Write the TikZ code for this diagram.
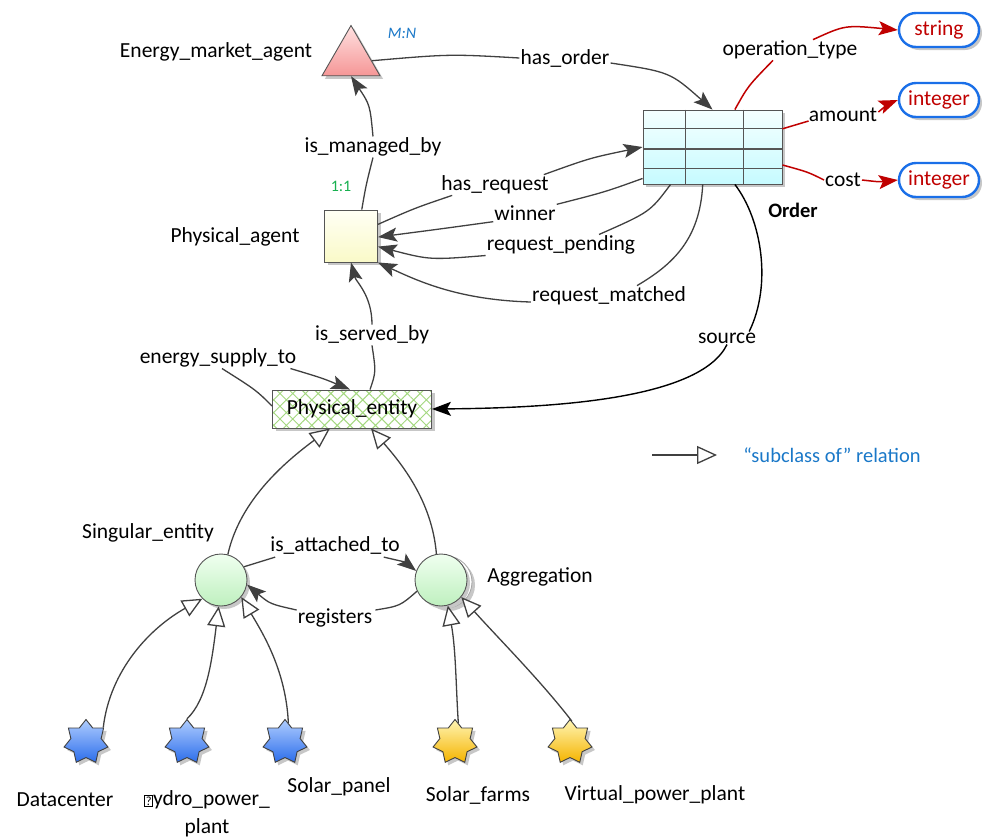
\documentclass[tikz,border=0pt]{standalone}
\usepackage{fontspec}
\setmainfont{Carlito}
\usetikzlibrary{shapes.geometric,arrows.meta,calc,shadows,patterns.meta}

\definecolor{edgegray}{HTML}{404040}
\definecolor{bordergray}{HTML}{555555}
\definecolor{typered}{HTML}{C00000}
\definecolor{typeblue}{HTML}{1A6FE8}
\definecolor{noteblue}{HTML}{1A78C8}
\definecolor{notegreen}{HTML}{18B050}
\definecolor{hatchgreen}{HTML}{A4D880}

% small "missing glyph" box used in one of the labels
\newcommand{\tofubox}{\raisebox{0.3pt}{\fboxsep=0.9pt\fboxrule=0.6pt\fbox{\fontsize{12.5}{12.5}\selectfont ?}}}

\begin{document}
\begin{tikzpicture}[x=1pt,y=-1pt,
  font=\fontsize{21.5}{25}\selectfont,
  lbl/.style={inner sep=1pt},
  softshadow/.style={drop shadow={shadow xshift=3pt,shadow yshift=-3pt,fill=black!22,opacity=1}},
  rel/.style={draw=edgegray,line width=1.3pt,-{Stealth[length=19pt,width=14pt,inset=4pt]}},
  plainrel/.style={draw=edgegray,line width=1.3pt},
  redrel/.style={draw=typered,line width=1.5pt,-{Stealth[length=19pt,width=14pt,inset=4pt]}},
  redplain/.style={draw=typered,line width=1.5pt},
  srcrel/.style={draw=black,line width=1.4pt,-{Stealth[length=19pt,width=14pt,inset=4pt]}},
  subrel/.style={draw=edgegray,line width=1.3pt,-{Triangle[length=20pt,width=18pt,fill=white,line width=1.3pt]}},
  typebox/.style={draw=typeblue,line width=2.4pt,rounded corners=17pt,minimum width=80pt,
    minimum height=34pt,inner sep=0pt,text=typered,fill=white,softshadow},
  bluestar/.style={star,star points=7,star point ratio=1.45,minimum size=45pt,inner sep=0pt,
    draw=edgegray,line width=0.9pt,top color={rgb,255:red,175;green,205;blue,255},bottom color={rgb,255:red,45;green,110;blue,235},softshadow},
  yellowstar/.style={star,star points=7,star point ratio=1.45,minimum size=45pt,inner sep=0pt,
    draw=edgegray,line width=0.9pt,top color={rgb,255:red,255;green,245;blue,180},bottom color={rgb,255:red,245;green,180;blue,0},softshadow},
  greencircle/.style={circle,minimum size=52pt,inner sep=0pt,draw=bordergray,line width=0.9pt,
    top color={rgb,255:red,240;green,255;blue,240},bottom color={rgb,255:red,190;green,240;blue,190},softshadow}
]
\useasboundingbox (0,0) rectangle (987,839);

% ---------- main concepts ----------
\node[regular polygon,regular polygon sides=3,minimum size=67pt,inner sep=0pt,
      draw=bordergray,line width=0.9pt,top color={rgb,255:red,255;green,225;blue,225},
      bottom color={rgb,255:red,245;green,150;blue,150},softshadow] (ema) at (351,59) {};
\node[lbl] (emalabel) at (216,52) {Energy\_market\_agent};
\node[lbl,font=\fontsize{16}{18}\selectfont\itshape,text=noteblue] (mn) at (402,33) {M:N};

\node[draw=bordergray,line width=0.9pt,minimum width=53pt,minimum height=52pt,inner sep=0pt,
      top color={rgb,255:red,255;green,255;blue,245},bottom color={rgb,255:red,250;green,250;blue,200},softshadow] (pa) at (351,236) {};
\node[lbl] (palabel) at (235,237) {Physical\_agent};
\node[lbl,font=\fontsize{16}{18}\selectfont,text=notegreen] (oneone) at (341,186) {1:1};

\node[draw=bordergray,line width=0.9pt,minimum width=139pt,minimum height=74pt,inner sep=0pt,
      top color={rgb,255:red,245;green,255;blue,255},bottom color={rgb,255:red,198;green,251;blue,255},softshadow] (ord) at (712.5,147) {};
\foreach \f/\w in {0.257/0.8,0.527/1.1,0.784/0.8}
  \draw[bordergray,line width=\w pt] ($(ord.north west)!\f!(ord.south west)$) -- ($(ord.north east)!\f!(ord.south east)$);
\foreach \f in {0.309,0.719}
  \draw[bordergray,line width=0.8pt] ($(ord.north west)!\f!(ord.north east)$) -- ($(ord.south west)!\f!(ord.south east)$);
\node[lbl,font=\fontsize{20.5}{24}\selectfont\bfseries] (ordlabel) at (793,210) {Order};

\node[typebox] (t1) at (939,30) {string};
\node[typebox] (t2) at (939,100) {integer};
\node[typebox] (t3) at (939,180) {integer};

\node[draw=bordergray,line width=0.9pt,minimum width=159pt,minimum height=38pt,inner sep=0pt,
      fill=white,softshadow,
      postaction={pattern={Hatch[angle=45,distance=9pt,line width=1pt]},pattern color=hatchgreen}] (pebox) at (352,409) {};
\node[draw=bordergray,line width=0.9pt,minimum width=159pt,minimum height=38pt,inner sep=0pt] (pe) at (352,409) {Physical\_entity};

\node[circle,minimum size=52pt,inner sep=0pt,draw=gray!70,line width=0.8pt,fill=white,softshadow] (agback) at (446,582) {};
\node[greencircle] (se) at (221,580) {};
\node[greencircle,drop shadow={opacity=0}] (ag) at (441,580) {};
\node[lbl] (selabel) at (148,533) {Singular\_entity};
\node[lbl] (aglabel) at (540,577) {Aggregation};

\node[bluestar] (s1) at (86,742) {};
\node[bluestar] (s2) at (187,742) {};
\node[bluestar] (s3) at (285,742) {};
\node[yellowstar] (s4) at (455,742) {};
\node[yellowstar] (s5) at (570,742) {};

\node[lbl] (s1label) at (65,800) {Datacenter};
\node[lbl,align=center,font=\fontsize{21.5}{28}\selectfont] (s2label) at (207,814) {\tofubox ydro\_power\_\\plant};
\node[lbl] (s3label) at (339,787) {Solar\_panel};
\node[lbl] (s4label) at (478,795) {Solar\_farms};
\node[lbl] (s5label) at (655,795) {Virtual\_power\_plant};

% ---------- relation labels ----------
\node[lbl] (lman) at (373,147) {is\_managed\_by};
\node[lbl] (lorder) at (565,58) {has\_order};
\node[lbl] (lop) at (790,50) {operation\_type};
\node[lbl] (lam) at (843,115) {amount};
\node[lbl] (lcost) at (843,180) {cost};
\node[lbl] (lreq) at (495,185) {has\_request};
\node[lbl] (lwin) at (525,213) {winner};
\node[lbl] (lpend) at (561,245) {request\_pending};
\node[lbl] (lmatch) at (609,296) {request\_matched};
\node[lbl] (lsrc) at (727,338) {source};
\node[lbl] (lserv) at (372,335) {is\_served\_by};
\node[lbl] (lsup) at (218,358) {energy\_supply\_to};
\node[lbl] (latt) at (335,545) {is\_attached\_to};
\node[lbl] (lreg) at (335,618) {registers};

% ---------- relations ----------
% is_managed_by
\draw[plainrel] ($(pa.north west)!0.7!(pa.north east)$) .. controls (366,185) .. (lman.south);
\draw[rel] (lman.north) .. controls (370,105) .. (ema.side 2);
% has_order
\draw[plainrel] ($(ema.corner 1)!0.7!(ema.corner 3)$) .. controls (450,54) .. (lorder.west);
\draw[rel] ($(lorder.east)+(0,5)$) .. controls (670,72) .. ($(ord.north west)!0.5!(ord.north east)$);
% attributes of the order
\draw[redplain] ($(ord.north west)!0.66!(ord.north east)$) .. controls (748,86) .. ($(lop.south)+(-17,0)$);
\draw[redrel] ($(lop.north)+(23,0)$) .. controls (845,25) .. (t1.west);
\draw[redplain] ($(ord.north east)!0.257!(ord.south east)$) -- ($(lam.west)+(1,6)$);
\draw[redrel] ($(lam.east)+(0,-3)$) .. controls (888,104) .. (t2.west);
\draw[redplain] ($(ord.north east)!0.74!(ord.south east)$) .. controls (808,172) .. (lcost.west);
\draw[redrel] (lcost.east) .. controls (880,182) .. (t3.west);
% has_request
\draw[plainrel] ($(pa.north east)!0.28!(pa.south east)$) .. controls (415,208) .. ($(lreq.south west)+(12,0)$);
\draw[rel] ($(lreq.north east)+(-6,0)$) .. controls (590,158) .. ($(ord.north west)!0.5!(ord.south west)$);
% winner
\draw[plainrel] ($(ord.north west)!0.92!(ord.south west)$) .. controls (605,192) .. (lwin.north east);
\draw[rel] (lwin.south west) .. controls (440,229) .. ($(pa.north east)!0.52!(pa.south east)$);
% request_pending
\draw[plainrel] ($(ord.south west)!0.2!(ord.south east)$) .. controls (650,212) .. ($(lpend.north)+(38,0)$);
\draw[rel] (lpend.south west) .. controls (430,260) .. ($(pa.north east)!0.7!(pa.south east)$);
% request_matched
\draw[plainrel] ($(ord.south west)!0.43!(ord.south east)$) .. controls (700,240) and (672,265) .. ($(lmatch.north)+(28,0)$);
\draw[rel] ($(lmatch.west)+(0,6)$) .. controls (460,300) and (420,282) .. (pa.south east);
% source
\draw[draw=black,line width=1.4pt] ($(ord.south west)!0.66!(ord.south east)$) .. controls (762,220) and (772,285) .. ($(lsrc.north east)+(-8,0)$);
\draw[srcrel] (lsrc.south) .. controls (700,400) and (550,408) .. (pe.east);
% is_served_by
\draw[plainrel] ($(pe.north)+(18,0)$) .. controls (376,372) .. (lserv.south);
\draw[rel] (lserv.north) .. controls (372,295) and (356,282) .. (pa.south);
% energy_supply_to
\draw[plainrel] ($(pe.west)+(0,-3)$) .. controls (256,390) .. ($(lsup.south)+(4,0)$);
\draw[rel] ($(lsup.south east)+(-7,0)$) .. controls (322,378) .. ($(pe.north)+(-2,0)$);
% is_attached_to / registers
\draw[plainrel] (se.30) -- ($(latt.south west)+(6,2)$);
\draw[rel] ($(latt.south east)+(-17,2)$) .. controls (405,562) .. (ag.160);
\draw[plainrel] (ag.205) .. controls (400,606) .. ($(lreg.east)+(2,-8)$);
\draw[rel] ($(lreg.west)+(0,-8)$) .. controls (270,604) .. (se.-10);

% subclass relations
\draw[draw=edgegray,line width=1.3pt,-{Triangle[length=20pt,width=18pt,fill=white,line width=1.3pt]}] (se.75) .. controls (240,500) and (285,462) .. ($(pe.south)+(-22,0)$);
\draw[subrel] (ag.100) .. controls (432,500) and (400,462) .. ($(pe.south)+(19,0)$);
\draw[subrel] (s1.40) .. controls (110,670) and (150,628) .. (se.225);
\draw[subrel] (s2.north) .. controls (207,700) and (212,660) .. (se.-95);
\draw[subrel] (s3.80) .. controls (286,670) and (262,632) .. (se.-40);
\draw[subrel] (s4.80) .. controls (456,690) and (456,650) .. (ag.-75);
\draw[subrel] (s5.85) .. controls (540,680) and (500,640) .. (ag.-40);

% ---------- legend ----------
\coordinate (lg1) at (652,455);
\coordinate (lg2) at (717,455);
\draw[subrel] (lg1) -- (lg2);
\node[lbl,font=\fontsize{20.5}{24}\selectfont,text=noteblue] (lgtext) at (832,455) {“subclass of” relation};
\end{tikzpicture}
\end{document}
